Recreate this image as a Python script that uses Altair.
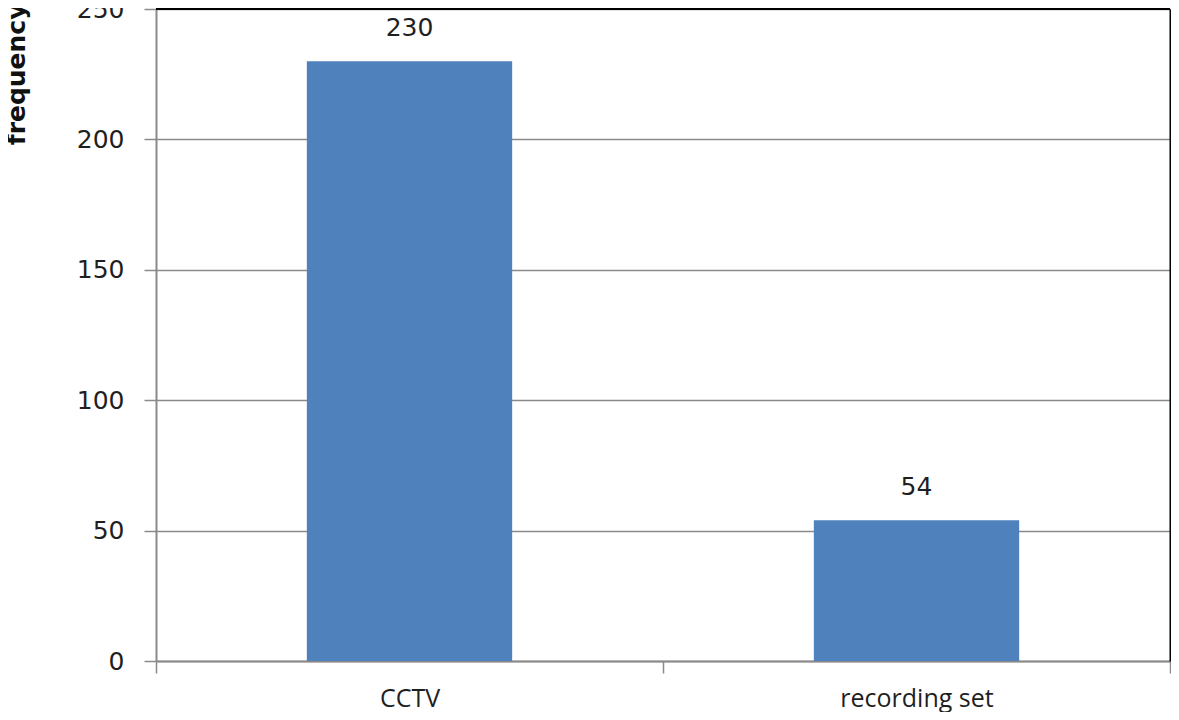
import altair as alt
import pandas as pd

categories = ["CCTV", "recording set"]
frequency = [230, 54]
y_ticks = [0, 50, 100, 150, 200, 250]
top_value = [250]

df = pd.DataFrame({"category": categories, "frequency": frequency})
df_top = pd.DataFrame({"top": top_value})

GREY = "#8a8a8a"

x_enc = alt.X(
    "category:N",
    sort=categories,
    scale=alt.Scale(paddingInner=0, paddingOuter=0),
    axis=alt.Axis(
        title=None, labelAngle=0, tickBand="extent",
        domainColor=GREY, domainWidth=2, tickColor=GREY, tickWidth=1.5, tickSize=12,
        labelFont="Open Sans", labelFontSize=25, labelPadding=13, labelColor="#1f1f1f",
        grid=False,
    ),
)
y_enc = alt.Y(
    "frequency:Q",
    scale=alt.Scale(domain=[0, 250], nice=False),
    axis=alt.Axis(
        values=y_ticks, title="frequency",
        titleFont="DejaVu Sans", titleFontSize=25, titleFontWeight="bold", titleColor="#111111",
        titleAngle=270, titleAlign="right", titleBaseline="middle", titleX=-140, titleY=-6,
        labelFont="DejaVu Sans", labelFontSize=25, labelColor="#1f1f1f", labelPadding=20,
        domainColor=GREY, domainWidth=2, tickColor=GREY, tickWidth=1.5, tickSize=12,
        grid=True, gridColor=GREY, gridWidth=1.5,
    ),
)

bars = alt.Chart(df).mark_bar(color="#4f81bd", width=alt.RelativeBandSize(0.405)).encode(
    x=x_enc, y=y_enc
)
labels = alt.Chart(df).mark_text(
    dy=-33, font="DejaVu Sans", fontSize=25, color="#1f1f1f"
).encode(x=x_enc, y=alt.Y("frequency:Q"), text="frequency:Q")

inner = alt.layer(bars, labels)

top_rule = alt.Chart(df_top).mark_rule(color="black", strokeWidth=2).encode(
    y=alt.Y(
        "top:Q",
        scale=alt.Scale(domain=[0, 250], nice=False),
        axis=alt.Axis(orient="right", title=None, labels=False, ticks=False, grid=False,
                      domainColor="black", domainWidth=2),
    )
)

chart = (
    alt.layer(inner, top_rule)
    .resolve_scale(y="independent")
    .properties(
        width=1014, height=652,
        padding={"left": 148, "top": 1, "right": 1, "bottom": 51},
        autosize="none",
    )
    .configure_view(stroke=None)
    .configure(background="white")
)

chart.save("out.html", embed_options={"renderer": "svg", "actions": False})
